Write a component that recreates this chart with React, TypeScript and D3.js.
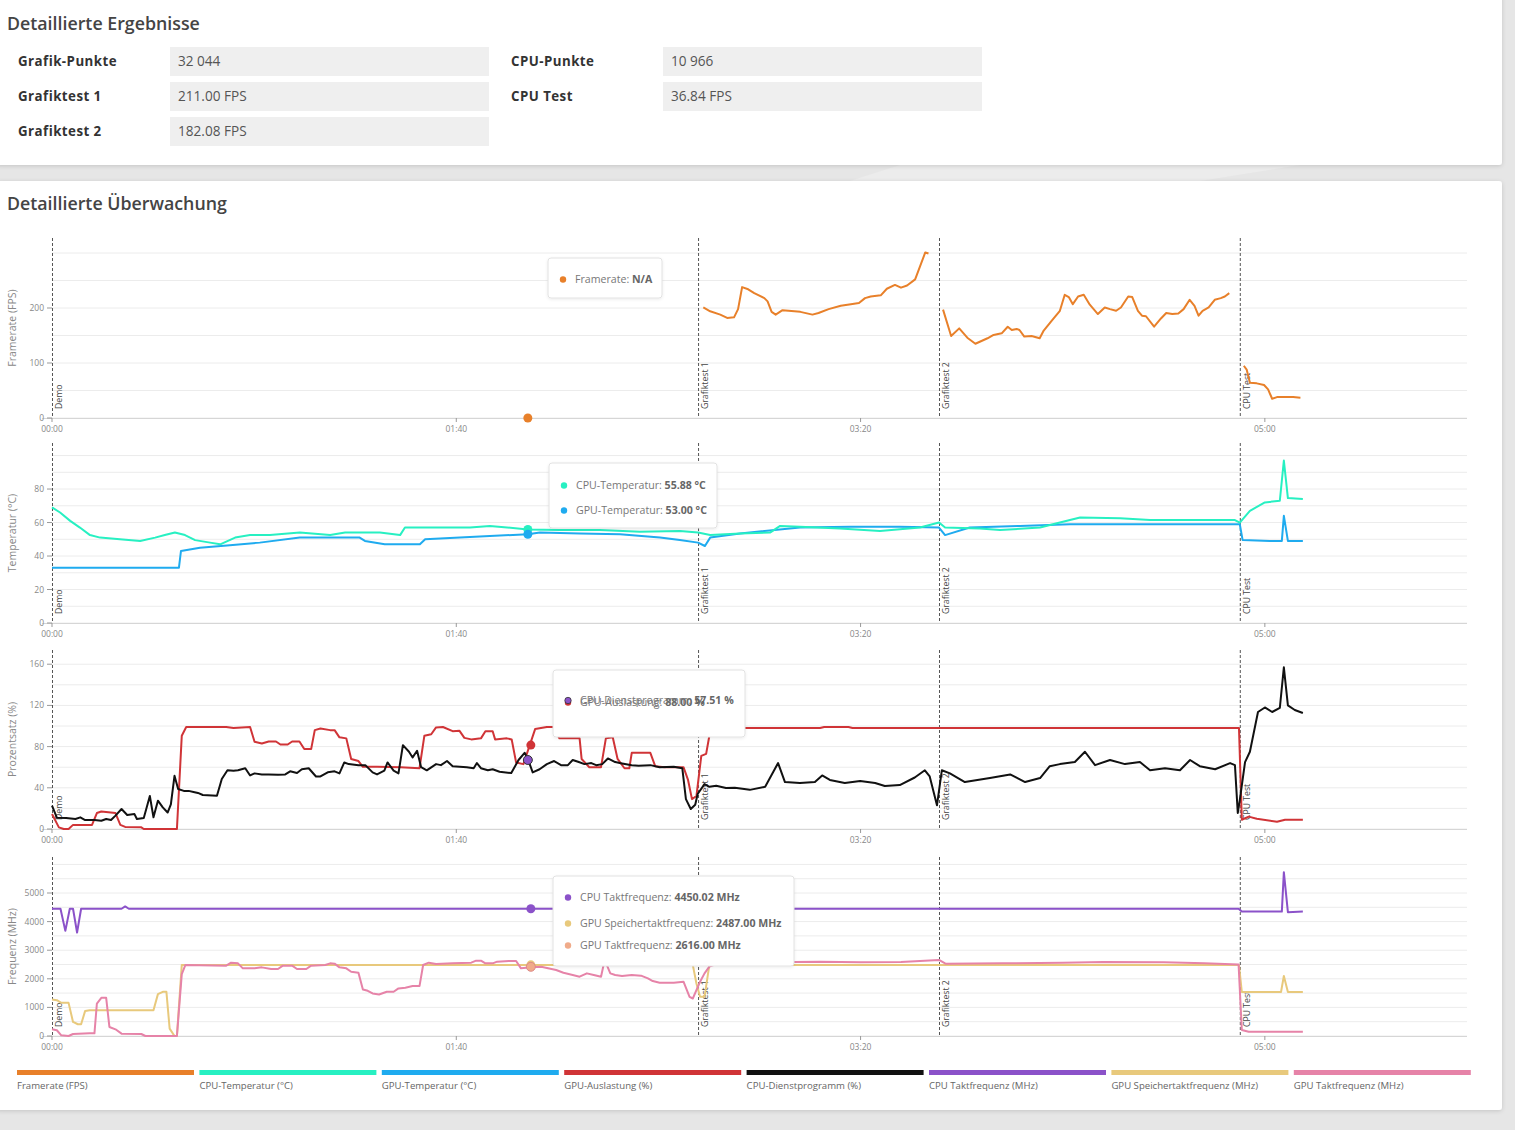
import React from 'react';
import * as d3 from 'd3';

// ---------- Data ----------
const resultLabelsLeft = ['Grafik-Punkte', 'Grafiktest 1', 'Grafiktest 2'];
const resultValuesLeft = ['32 044', '211.00 FPS', '182.08 FPS'];
const resultLabelsRight = ['CPU-Punkte', 'CPU Test'];
const resultValuesRight = ['10 966', '36.84 FPS'];

const markerNames = ['Demo', 'Grafiktest 1', 'Grafiktest 2', 'CPU Test'];
const markerTimes = [0, 159.8, 219.4, 293.8];
const xTickTimes = [0, 100, 200, 300];
const xTickLabels = ['00:00', '01:40', '03:20', '05:00'];
const hoverTime = 117.7;

const legendNames = ['Framerate (FPS)', 'CPU-Temperatur (°C)', 'GPU-Temperatur (°C)', 'GPU-Auslastung (%)', 'CPU-Dienstprogramm (%)', 'CPU Taktfrequenz (MHz)', 'GPU Speichertaktfrequenz (MHz)', 'GPU Taktfrequenz (MHz)'];
const legendColors = ['#e8802a', '#27f0c2', '#1fabef', '#d03437', '#111111', '#8b52c9', '#e8c97c', '#e683a8'];

type P = [number, number];

const fpsGrafiktest1: P[] = [[161.1,201],[162.8,194],[165.3,188],[167.0,182],[168.7,183],[169.7,198],[170.7,238],[172.2,234],[173.7,227],[176.2,218],[177.0,212],[178.0,193],[179.0,188],[180.7,196],[185.1,193],[188.1,188],[189.6,191],[192.1,198],[195.1,204],[197.6,207],[199.6,209],[201.1,218],[202.5,221],[205.0,223],[206.5,235],[208.5,242],[210.0,237],[211.5,241],[213.5,252],[216.0,301],[216.8,299]];
const fpsGrafiktest2: P[] = [[220.4,197],[222.4,149],[224.4,163],[226.4,146],[228.4,135],[231.4,145],[232.9,151],[234.9,154],[236.4,166],[237.4,160],[238.6,162],[239.3,160],[240.5,148],[242.3,149],[244.3,145],[245.3,159],[247.3,177],[249.3,195],[250.5,224],[251.5,220],[252.5,207],[253.8,221],[255.2,224],[256.7,206],[258.7,189],[260.4,201],[261.7,198],[263.2,195],[264.4,201],[266.2,221],[267.2,220],[268.6,195],[269.6,186],[270.6,185],[272.6,166],[274.3,181],[275.6,191],[277.1,189],[278.6,190],[279.9,198],[281.4,215],[282.6,204],[283.6,186],[284.6,195],[286.1,201],[287.6,215],[289.1,218],[290.1,221],[291.2,227]];
const fpsCpuTest: P[] = [[294.8,95],[295.5,88],[296.3,64],[298.0,63],[299.8,60],[300.8,52],[301.8,35],[303.0,38],[305.0,38],[307.0,38],[308.8,37]];

const cpuTemp: P[] = [[0,69],[2,66],[4.5,61],[6.9,57],[9.4,52.5],[11.9,51],[16.8,50],[21.8,49],[25.5,51],[27.9,52.5],[30.4,54],[32.9,52.5],[35.4,49.5],[39.1,48],[41.6,47],[45.3,51],[49,52.5],[53.9,52.5],[61.3,54],[68.8,52.5],[72.5,54],[81.1,54],[86.1,52.5],[87.3,57],[93.5,57],[103.4,57],[108.3,58],[117.7,55.9],[125.6,55.5],[135.5,55.5],[145.4,54.5],[155.3,55],[159.8,54],[162.8,52.5],[170.2,53.5],[177.6,54],[180.1,58],[185,57.5],[194.9,56.5],[204.8,55],[214.7,57],[219.4,60],[220.9,57],[229.5,56.5],[234.5,55.5],[244.4,57],[249.3,60],[254.3,63],[264.2,62.5],[271.6,61.5],[284,61.5],[292.6,61.5],[293.8,60],[296.3,67],[300,72],[303.7,73],[304.7,97],[305.7,74.6],[309.4,74]];
const gpuTemp: P[] = [[0,33],[25.5,33],[31.4,33],[31.9,43],[36.6,45],[44,46.5],[51.4,48],[61.3,51],[76.1,51],[77.4,49],[82.3,47],[91,47],[92.3,50],[100.9,51],[108.3,52],[117.7,53],[120.7,54],[130.6,53.5],[140.5,53],[150.4,51],[155.3,49.5],[159.8,48],[161.5,46],[162.8,51],[170.2,53.5],[185,57],[197.4,57.5],[209.7,57.5],[219.4,57],[220.9,52.5],[227,57],[239.4,58],[251.8,59],[271.6,59],[293.8,59],[294.5,49.5],[301.2,49],[304.2,49],[304.7,64],[305.7,49],[309.4,49]];

const gpuLoad: P[] = [[0,14.5],[1.7,1.6],[2.9,0],[4.1,0],[5.2,4],[9.9,4],[11.1,15.5],[12.2,17],[15.7,15.5],[16.9,4],[18.1,2],[22.1,1.6],[22.7,0],[30.9,0],[32.1,90.5],[33.2,99],[43.1,99],[44.9,98],[49,99],[50.1,84.7],[51.9,83],[53.6,85],[55.4,85],[56.5,82],[58.3,82],[59.4,85],[61.2,85],[62.4,77.6],[64.1,77.6],[65,96],[66.4,97.6],[68.8,96],[69.9,96],[71.1,89],[72.8,88],[74,68],[75.8,66],[76.9,60.4],[80.4,60.4],[86.2,60],[90.9,59],[92.1,90.5],[93.8,92],[95,98.6],[96.7,99],[99.1,95],[100.8,95.3],[102,88.5],[103.7,87],[106.1,88],[107.2,95],[109,95],[109.6,87],[112.5,88],[113.7,87],[114.8,64.6],[116.6,63],[119.5,97],[122.4,99],[124,99],[125.5,88],[130.5,88],[131,68],[132.9,60],[135.8,60],[137,88],[138.7,89],[139.9,68],[141.6,59],[142.8,59],[143.4,74],[148,74],[149.2,61],[151.5,60],[156.2,60],[157.3,48],[158.3,29],[159.4,32],[160.6,71],[161.8,73],[162.6,90.5],[163.2,96],[171.4,98],[190,98],[191,99],[197,99],[198,98],[293.6,98],[294.3,9],[296,12],[298,10],[303,7],[305,9],[309.4,9]];
const cpuUtil: P[] = [[0,22.6],[1.2,11],[3.5,10.7],[5.8,9.7],[7,11.3],[8.2,8.7],[10.5,8.7],[12.2,8],[13.4,9.7],[14.6,8.7],[15.7,13],[17.2,19.4],[18.6,13.6],[20.4,14.5],[21,9.7],[22.7,10.7],[24.2,32],[25.1,11.3],[26.2,27.5],[27.4,21],[28.6,16],[29.4,24],[30.3,51.7],[31.2,38.8],[32.6,37],[33.8,37],[35,36],[36.1,35],[37.3,33],[40.8,32.3],[42,48.5],[43.4,57],[44.9,56.6],[46,57],[47.8,59],[49,52],[50.1,54],[51.9,53],[53.6,53],[55.9,52.7],[57.7,53],[58.9,56],[60.6,54.3],[61.8,58],[63.5,59],[65.3,51],[66.4,51],[68.2,55],[69.9,56],[71.1,54],[72.3,64.6],[73.4,63],[75.8,62],[77.5,62],[79.3,55],[80.4,53],[82.2,56.6],[83,64.6],[84.5,56.6],[85.7,54],[86.8,81.4],[88.3,75],[89.2,69.5],[90.3,76],[91.3,60],[92.7,57],[95,63],[96.2,62],[97.7,66],[99.1,61],[102.6,60],[104.3,59],[105.1,64],[106.1,59],[107.8,57],[109,58],[110.7,55.6],[113.6,54.3],[115.4,67],[116.9,74],[117.7,68],[118.9,55],[120.6,58],[122.4,63],[124.2,66],[125.9,62],[127.6,62],[128.8,67],[130.3,65],[131.7,63],[133.4,64],[134.6,62],[136.1,63],[137.5,68.5],[139.3,65],[141,63.7],[143.4,62],[145.1,61.4],[148,62],[150.3,60],[153.8,60.4],[155.9,59],[156.8,29],[158,19.4],[159.1,23.6],[159.7,34],[161.4,43.6],[162.6,41],[164.3,42],[166.7,39.8],[168.9,40],[172.6,38],[176.4,41],[179.6,64],[181.3,45.6],[185,44.7],[188.7,45.6],[190.5,52],[192.4,47.6],[196.1,44.7],[199.9,46.6],[203.6,44.7],[206,41.7],[209.7,42.7],[213.4,50],[215.9,57],[217.1,51],[218.9,23],[220.1,57],[222.1,54],[225.8,45.6],[232,49.5],[237,53],[240.7,45.6],[244.4,49.5],[246.8,61],[249.3,63],[253,65],[255.5,75],[258,62],[261.7,67],[265.4,63],[269.1,65],[271.6,57],[275.3,59],[279,57],[281.5,67],[283.9,61],[287.7,58],[291.4,64],[292.6,62],[293.3,15.5],[293.8,28],[295.1,65],[296.3,75],[298.3,113.6],[300,118],[301.8,113.6],[303.7,117.5],[304.7,157],[305.7,120],[307.4,115.5],[309.4,112.6]];

const cpuClock: P[] = [[0,4450],[2.1,4450],[3.3,3677],[4.4,4450],[5.2,4450],[6.2,3618],[7.2,4450],[17.2,4450],[18.1,4530],[19,4450],[293.5,4450],[294.3,4350],[304.2,4350],[304.7,5730],[305.7,4330],[309.4,4350]];
const gpuMemClock: P[] = [[0,1276],[1.2,1253],[2.3,1159],[4.1,1159],[5.2,492],[6.4,410],[7.2,410],[8.2,878],[9.3,902],[25.1,902],[26.2,1464],[27.4,1545],[28.3,1545],[29.1,258],[30.3,0],[30.9,0],[32.1,2487],[158.5,2487],[159.4,1838],[160.3,1370],[161.4,1370],[162.6,2487],[293.6,2487],[294.3,1538],[304,1538],[304.7,2100],[305.7,1538],[309.4,1538]];
const gpuClock: P[] = [[0,234],[1.2,200],[2.3,23],[4.1,0],[5.2,70],[9.3,94],[10.5,94],[11.1,1136],[12.2,1335],[13.4,1335],[14.2,316],[15.7,234],[17.2,82],[22.1,70],[23.1,0],[30.9,0],[32.1,2166],[33,2483],[43.1,2459],[44.3,2564],[46,2541],[47.2,2365],[50.1,2365],[51.9,2400],[54.2,2342],[55.9,2342],[57.1,2459],[59.4,2459],[60.6,2342],[62.9,2342],[64.1,2459],[67.6,2483],[68.8,2541],[69.9,2530],[71.1,2400],[72.8,2365],[74,2248],[75.8,2213],[76.9,1628],[78.1,1581],[79.3,1487],[80.9,1452],[82.8,1546],[84.5,1546],[85.7,1663],[87.4,1686],[89.2,1745],[90.9,1745],[91.8,2483],[93.2,2564],[95,2518],[99.1,2541],[103.7,2564],[104.9,2635],[106.1,2635],[107.2,2541],[109,2541],[110.1,2600],[113,2623],[114.8,2623],[116,2365],[118.6,2400],[121,2420],[124.7,2307],[126.5,2213],[128.8,2131],[130.5,2073],[132.3,2190],[134,2131],[135.8,2073],[136.7,2658],[138.1,2190],[139.3,2131],[141,2096],[143.4,2131],[145.7,2110],[147.4,2014],[148.6,1920],[150.3,1862],[153.8,1862],[156.2,1897],[157.7,1370],[158.5,1311],[159.4,1604],[160.3,1897],[161.4,2190],[162.6,2424],[165,2550],[183.5,2590],[190,2600],[200,2580],[210,2590],[219.4,2660],[221,2530],[235,2540],[250,2560],[260,2590],[275,2580],[285,2540],[293.5,2500],[294.3,210],[296,150],[309.4,150]];

// ---------- Layout helpers ----------
const FONT = "'Open Sans', 'Noto Sans', sans-serif";
const xScale = d3.scaleLinear().domain([0, 350]).range([52, 1467]);

type Series = { data: P[]; color: string; width?: number };
type TipRow = { label: string; value: string; color: string; dy: number; stroke?: string };
type Dot = { value: number; color: string; stroke?: string; xOff?: number };
type ChartCfg = {
  title: string; top: number; bottom: number; max: number;
  ticks: number[]; gridStep: number; gridMax: number;
  series: Series[]; dots: Dot[];
  tip: { x: number; y: number; w: number; h: number; rows: TipRow[] };
};

const charts: ChartCfg[] = [
  {
    title: 'Framerate (FPS)', top: 238, bottom: 418, max: 327.3, ticks: [0, 100, 200], gridStep: 50, gridMax: 300,
    series: [
      { data: fpsGrafiktest1, color: legendColors[0] },
      { data: fpsGrafiktest2, color: legendColors[0] },
      { data: fpsCpuTest, color: legendColors[0] },
    ],
    dots: [{ value: 0, color: legendColors[0] }],
    tip: { x: 548, y: 258, w: 114, h: 40, rows: [{ label: 'Framerate', value: 'N/A', color: legendColors[0], dy: 25 }] },
  },
  {
    title: 'Temperatur (°C)', top: 443, bottom: 623, max: 107.5, ticks: [0, 20, 40, 60, 80], gridStep: 10, gridMax: 100,
    series: [
      { data: gpuTemp, color: legendColors[2] },
      { data: cpuTemp, color: legendColors[1] },
    ],
    dots: [{ value: 55.88, color: legendColors[1] }, { value: 53, color: legendColors[2] }],
    tip: { x: 549, y: 463, w: 168, h: 65, rows: [
      { label: 'CPU-Temperatur', value: '55.88 °C', color: legendColors[1], dy: 26 },
      { label: 'GPU-Temperatur', value: '53.00 °C', color: legendColors[2], dy: 51 },
    ] },
  },
  {
    title: 'Prozentsatz (%)', top: 650, bottom: 829, max: 173.8, ticks: [0, 40, 80, 120, 160], gridStep: 20, gridMax: 160,
    series: [
      { data: gpuLoad, color: legendColors[3] },
      { data: cpuUtil, color: legendColors[4] },
    ],
    dots: [{ value: 81.5, color: legendColors[3], xOff: 3 }, { value: 67, color: legendColors[5], stroke: '#333' }],
    tip: { x: 553, y: 670, w: 192, h: 67, rows: [
      { label: 'GPU-Auslastung', value: '88.00 %', color: legendColors[3], dy: 36 },
      { label: 'CPU-Dienstprogramm', value: '57.51 %', color: legendColors[5], dy: 34, stroke: '#333' },
    ] },
  },
  {
    title: 'Frequenz (MHz)', top: 857, bottom: 1036, max: 6259, ticks: [0, 1000, 2000, 3000, 4000, 5000], gridStep: 500, gridMax: 6000,
    series: [
      { data: gpuMemClock, color: legendColors[6] },
      { data: gpuClock, color: legendColors[7] },
      { data: cpuClock, color: legendColors[5] },
    ],
    dots: [{ value: 4450.02, color: legendColors[5], xOff: 3 }, { value: 2487, color: legendColors[6], xOff: 3 }, { value: 2420, color: '#f0ab8a', stroke: '#d88', xOff: 3 }],
    tip: { x: 553, y: 876, w: 241, h: 90, rows: [
      { label: 'CPU Taktfrequenz', value: '4450.02 MHz', color: legendColors[5], dy: 25 },
      { label: 'GPU Speichertaktfrequenz', value: '2487.00 MHz', color: legendColors[6], dy: 51 },
      { label: 'GPU Taktfrequenz', value: '2616.00 MHz', color: '#f0ab8a', dy: 73 },
    ] },
  },
];

function Chart({ cfg }: { cfg: ChartCfg }) {
  const y = d3.scaleLinear().domain([0, cfg.max]).range([cfg.bottom, cfg.top]);
  const grid = d3.range(0, cfg.gridMax + 0.001, cfg.gridStep);
  const line = d3.line<P>().x(d => xScale(d[0])).y(d => y(d[1]));
  const hx = xScale(hoverTime);
  const mid = (cfg.top + cfg.bottom) / 2;
  const t = cfg.tip;
  return (
    <g>
      {grid.map(g => (
        <line key={g} x1={52} x2={1467} y1={y(g)} y2={y(g)} stroke="#ececec" strokeWidth={1} />
      ))}
      <line x1={42} x2={1467} y1={cfg.bottom + 0.5} y2={cfg.bottom + 0.5} stroke="#d6d6d6" strokeWidth={1} />
      {cfg.ticks.map(v => (
        <g key={v}>
          <line x1={47} x2={52} y1={y(v)} y2={y(v)} stroke="#999" />
          <text x={44} y={y(v) + 3} textAnchor="end" fontSize={8.5} fill="#888" fontFamily={FONT}>{v}</text>
        </g>
      ))}
      {xTickTimes.map((v, i) => (
        <g key={v}>
          <line x1={xScale(v)} x2={xScale(v)} y1={cfg.bottom} y2={cfg.bottom + 4} stroke="#999" />
          <text x={xScale(v)} y={cfg.bottom + 14} textAnchor="middle" fontSize={8.5} fill="#888" fontFamily={FONT}>{xTickLabels[i]}</text>
        </g>
      ))}
      <text transform={`translate(15.5,${mid}) rotate(-90)`} textAnchor="middle" fontSize={10.5} fill="#888" fontFamily={FONT}>{cfg.title}</text>
      {markerTimes.map((m, i) => (
        <g key={m}>
          <line x1={xScale(m) + 0.5} x2={xScale(m) + 0.5} y1={cfg.top} y2={cfg.bottom} stroke="#555" strokeWidth={1} strokeDasharray="3,2" />
          <text transform={`translate(${xScale(m) + 10},${cfg.bottom - 9}) rotate(-90)`} fontSize={8.7} fill="#444" fontFamily={FONT}>{markerNames[i]}</text>
        </g>
      ))}
      {cfg.series.map((s, i) => (
        <path key={i} d={line(s.data) || ''} fill="none" stroke={s.color} strokeWidth={2} strokeLinejoin="round" />
      ))}
      {cfg.dots.map((d, i) => (
        <circle key={i} cx={hx + (d.xOff || 0)} cy={y(d.value)} r={4.5} fill={d.color} stroke={d.stroke || 'none'} strokeWidth={1} />
      ))}
      <g>
        <rect x={t.x} y={t.y} width={t.w} height={t.h} rx={3} fill="#ffffff" stroke="#e2e2e2" filter="url(#tipShadow)" />
        {t.rows.map((r, i) => (
          <g key={i}>
            <circle cx={t.x + 15} cy={t.y + r.dy - 3.5} r={3.2} fill={r.color} stroke={r.stroke || 'none'} strokeWidth={0.8} />
            <text x={t.x + 27} y={t.y + r.dy} fontSize={10.6} fontFamily={FONT} fill="#777">
              <tspan>{r.label}: </tspan>
              <tspan fontWeight="bold" fill="#666">{r.value}</tspan>
            </text>
          </g>
        ))}
      </g>
    </g>
  );
}

export default function App() {
  const legendX = d3.scaleLinear().domain([0, 1]).range([17, 199.4]);
  return (
    <div style={{ position: 'absolute', left: 0, top: 0, width: 1515, height: 1130, background: '#e6e6e6' }}>
      <svg width={1515} height={1130} style={{ display: 'block' }}>
        <defs>
          <filter id="cardShadow" x="-5%" y="-5%" width="110%" height="110%">
            <feDropShadow dx="0" dy="1" stdDeviation="2" floodColor="#000" floodOpacity="0.15" />
          </filter>
          <filter id="tipShadow" x="-10%" y="-10%" width="120%" height="130%">
            <feDropShadow dx="0" dy="1" stdDeviation="1.5" floodColor="#000" floodOpacity="0.08" />
          </filter>
        </defs>
        <rect x={0} y={0} width={1515} height={1130} fill="#e6e6e6" />
        <polygon points="900,165 1300,165 1200,181 850,181" fill="#ececec" />
        {/* Top card */}
        <rect x={-4} y={-6} width={1506} height={171} rx={3} fill="#fff" filter="url(#cardShadow)" />
        <text x={7} y={30} fontSize={17.8} fontWeight={600} fill="#444" fontFamily={FONT}>Detaillierte Ergebnisse</text>
        {resultLabelsLeft.map((l, i) => (
          <g key={l}>
            <text x={18} y={66 + i * 35} fontSize={13.3} fontWeight="bold" fill="#333" fontFamily={FONT} letterSpacing={0.45}>{l}</text>
            <rect x={170} y={47 + i * 35} width={319} height={29} fill="#efefef" />
            <text x={178} y={66 + i * 35} fontSize={13.6} fill="#555" fontFamily={FONT}>{resultValuesLeft[i]}</text>
          </g>
        ))}
        {resultLabelsRight.map((l, i) => (
          <g key={l}>
            <text x={511} y={66 + i * 35} fontSize={13.3} fontWeight="bold" fill="#333" fontFamily={FONT} letterSpacing={0.45}>{l}</text>
            <rect x={663} y={47 + i * 35} width={319} height={29} fill="#efefef" />
            <text x={671} y={66 + i * 35} fontSize={13.6} fill="#555" fontFamily={FONT}>{resultValuesRight[i]}</text>
          </g>
        ))}
        {/* Monitoring card */}
        <rect x={-4} y={181} width={1506} height={929} rx={3} fill="#fff" filter="url(#cardShadow)" />
        <text x={7} y={210} fontSize={17.8} fontWeight={600} fill="#444" fontFamily={FONT}>Detaillierte Überwachung</text>
        {charts.map((c, i) => <Chart key={i} cfg={c} />)}
        {legendNames.map((n, i) => (
          <g key={n}>
            <rect x={legendX(i)} y={1070} width={177} height={5} fill={legendColors[i]} />
            <text x={legendX(i)} y={1089} fontSize={9.6} fill="#666" fontFamily={FONT}>{n}</text>
          </g>
        ))}
      </svg>
    </div>
  );
}
